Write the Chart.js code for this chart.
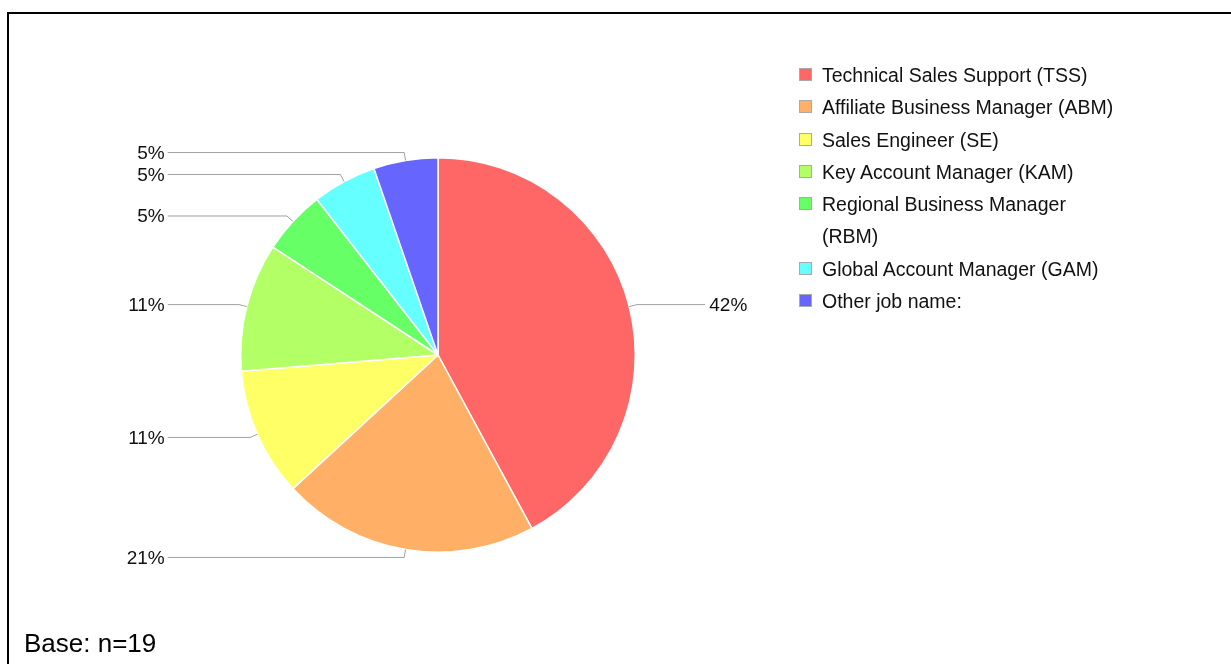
<!DOCTYPE html>
<html>
<head>
<meta charset="utf-8">
<script src="https://cdn.jsdelivr.net/npm/chart.js@4"></script>
<style>
  html, body { margin: 0; padding: 0; background: #fff; overflow: hidden; }
  body { width: 1231px; height: 664px; position: relative; font-family: "Liberation Sans", Arial, sans-serif; }
  #frame {
    position: absolute; left: 7px; top: 12px; right: -10px; bottom: -10px;
    border-left: 2px solid #000; border-top: 2px solid #000;
  }
  #chart-wrap { position: absolute; left: 0; top: 0; width: 1231px; height: 664px; }
  #legend {
    position: absolute; left: 799px; top: 59px; width: 320px;
    list-style: none; margin: 0; padding: 0;
    font-size: 19.5px; color: #111; line-height: 32.3px;
  }
  #legend li { position: relative; padding-left: 23px; width: 298px; }
  #legend .swatch {
    position: absolute; left: 0; top: 9px; width: 11px; height: 11px;
    border: 1px solid #aaa;
  }
  #base { position: absolute; left: 24px; top: 628px; font-size: 26px; line-height: 30px; color: #000; }
</style>
</head>
<body>
<div id="frame"></div>
<div id="chart-wrap"><canvas id="jobChart"></canvas></div>
<ul id="legend"></ul>
<div id="base">Base: n=19</div>

<script>
// Job roles (n=19)
const categories = [
  'Technical Sales Support (TSS)',
  'Affiliate Business Manager (ABM)',
  'Sales Engineer (SE)',
  'Key Account Manager (KAM)',
  'Regional Business Manager (RBM)',
  'Global Account Manager (GAM)',
  'Other job name:'
];
const counts = [8, 4, 2, 2, 1, 1, 1];
const sliceColors = ['#ff6666', '#ffb066', '#ffff66', '#b3ff66', '#66ff66', '#66ffff', '#6666ff'];

// HTML legend so long names can wrap
const legendEl = document.getElementById('legend');
categories.forEach((name, i) => {
  const li = document.createElement('li');
  const sw = document.createElement('span');
  sw.className = 'swatch';
  sw.style.background = sliceColors[i];
  li.appendChild(sw);
  li.appendChild(document.createTextNode(name));
  legendEl.appendChild(li);
});

// Percent labels with leader lines
const leaderLabels = {
  id: 'leaderLabels',
  afterDatasetsDraw(chart) {
    const ctx = chart.ctx;
    const meta = chart.getDatasetMeta(0);
    const data = chart.data.datasets[0].data;
    const total = data.reduce((a, b) => a + b, 0);
    ctx.save();
    ctx.font = '19px "Liberation Sans", Arial, sans-serif';
    ctx.textBaseline = 'middle';
    ctx.lineWidth = 1;
    meta.data.forEach((arc, i) => {
      const { x, y, startAngle, endAngle, outerRadius } = arc.getProps(['x', 'y', 'startAngle', 'endAngle', 'outerRadius'], true);
      const mid = (startAngle + endAngle) / 2;
      const cos = Math.cos(mid), sin = Math.sin(mid);
      const ex = x + outerRadius * cos, ey = y + outerRadius * sin;
      const kx = x + (outerRadius + 8) * cos, ky = y + (outerRadius + 8) * sin;
      const right = cos > 0;
      const lineEnd = right ? x + outerRadius + 70 : x - outerRadius - 73;
      ctx.strokeStyle = '#a0a0a0';
      ctx.beginPath();
      ctx.moveTo(ex, ey);
      ctx.lineTo(kx, ky);
      ctx.lineTo(lineEnd, ky);
      ctx.stroke();
      const pct = Math.round(data[i] / total * 100) + '%';
      ctx.fillStyle = '#111';
      ctx.textAlign = right ? 'left' : 'right';
      ctx.fillText(pct, right ? lineEnd + 4 : lineEnd - 3, ky + 1);
    });
    ctx.restore();
  }
};

new Chart(document.getElementById('jobChart'), {
  type: 'pie',
  data: {
    labels: categories,
    datasets: [{
      data: counts,
      backgroundColor: sliceColors,
      borderColor: '#ffffff',
      borderWidth: 1.5
    }]
  },
  options: {
    responsive: true,
    maintainAspectRatio: false,
    animation: false,
    layout: { padding: { left: 240, top: 157, right: 595, bottom: 111 } },
    plugins: {
      legend: { display: false },
      tooltip: { enabled: false }
    }
  },
  plugins: [leaderLabels]
});
</script>
</body>
</html>
